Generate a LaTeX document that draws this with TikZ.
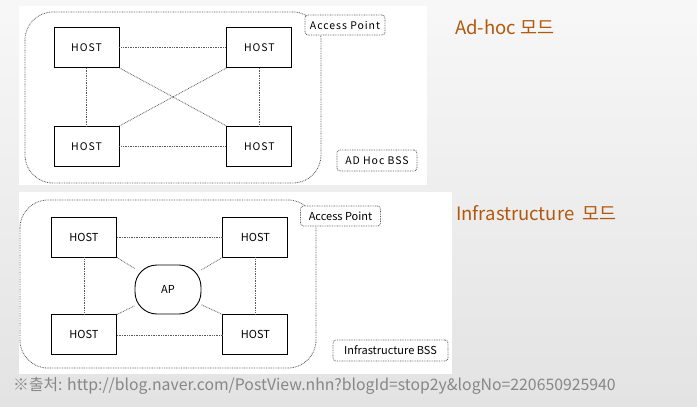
\documentclass[tikz,border=0pt]{standalone}
\usepackage{fontspec}
\setmainfont{Noto Sans CJK KR}
\newfontfamily\widefont[LetterSpace=9]{Noto Sans CJK KR}
\usetikzlibrary{positioning}
\definecolor{hdbrown}{RGB}{178,88,12}
\definecolor{linkgray}{RGB}{90,90,90}
\definecolor{notegray}{RGB}{135,135,135}
\tikzset{
  host/.style={draw=black, line width=0.9pt, fill=white, minimum width=65pt,
    minimum height=40pt, inner sep=0pt, font=\fontsize{11}{13}\selectfont},
  link/.style={draw=linkgray, line width=0.8pt, dash pattern=on 0.8pt off 0.9pt},
  tag/.style={link, fill=white, rounded corners=3pt, minimum width=80pt,
    minimum height=20pt, inner sep=0pt, font=\fontsize{11}{13}\selectfont},
  apnode/.style={draw=black, line width=0.9pt, fill=white, rounded corners=22pt,
    minimum width=66pt, minimum height=49pt, inner sep=0pt, font=\fontsize{11}{13}\selectfont},
  heading/.style={anchor=west, text=hdbrown, inner sep=0pt, font=\fontsize{18.5}{20}\selectfont},
  wide/.style={font=\widefont\fontsize{10.5}{13}\selectfont},
}

\begin{document}
\begin{tikzpicture}[x=1pt, y=-1pt]
    % background and panels
    \useasboundingbox (0,0) rectangle (697,407);
    \shade[top color=white!97!black, bottom color=white!89!black] (0,0) rectangle (697,407);
    \fill[white] (19,6) rectangle (427,185);
    \fill[white] (19,192) rectangle (452,374);

    % ad-hoc mode
    \draw[link, rounded corners=28pt] (25,12) rectangle (321,183);
    \node[host, wide] (adhoc_tl) at (86.5,47.5) {HOST};
    \node[host, wide, right=107pt of adhoc_tl] (adhoc_tr) {HOST};
    \node[host, wide, below=58pt of adhoc_tl] (adhoc_bl) {HOST};
    \node[host, wide, right=107pt of adhoc_bl] (adhoc_br) {HOST};
    \node[tag, wide] (adhoc_ap) at (345,25) {Access Point};
    \node[tag, wide, minimum height=21pt] (adhoc_bss) at (377,160.5) {AD Hoc BSS};
    % links
    \draw[link] (adhoc_tl) -- (adhoc_tr);
    \draw[link] (adhoc_bl) -- (adhoc_br);
    \draw[link] (adhoc_tl) -- (adhoc_bl);
    \draw[link] (adhoc_tr) -- (adhoc_br);
    \draw[link] (adhoc_tl.south east) -- (adhoc_br.north west);
    \draw[link] (adhoc_bl.north east) -- (adhoc_tr.south west);

    % infrastructure mode
    \draw[link, rounded corners=28pt] (20,200) rectangle (316,368);
    \node[host] (infra_tl) at (84,237) {HOST};
    \node[host, right=105.5pt of infra_tl] (infra_tr) {HOST};
    \node[host, below=57pt of infra_tl] (infra_bl) {HOST};
    \node[host, right=105.5pt of infra_bl] (infra_br) {HOST};
    \node[apnode] (infra_ap) at (168,289.5) {AP};
    \node[tag] (infra_apt) at (340.5,216) {Access Point};
    \node[tag, minimum width=115pt, minimum height=21pt] (infra_bss) at (390.5,350.5) {Infrastructure BSS};
    % links
    \draw[link] (infra_tl) -- (infra_tr);
    \draw[link] (infra_bl) -- (infra_br);
    \draw[link] (infra_tl) -- (infra_bl);
    \draw[link] (infra_tr) -- (infra_br);
    \draw[link] (infra_tl.south east) -- (infra_ap);
    \draw[link] (infra_tr.south west) -- (infra_ap);
    \draw[link] (infra_bl.north east) -- (infra_ap);
    \draw[link] (infra_br.north west) -- (infra_ap);

    % headings and source
    \node[heading] (adhoc_title) at (455,27) {Ad-hoc 모드};
    \node[heading] (infra_title) at (456,213) {Infrastructure\ \ 모드};
    \node[anchor=west, inner sep=0pt, text=notegray, font=\fontsize{15.8}{17}\selectfont]
        (source) at (13,386) {※출처: http://blog.naver.com/PostView.nhn?blogId=stop2y\&logNo=220650925940};
\end{tikzpicture}
\end{document}
